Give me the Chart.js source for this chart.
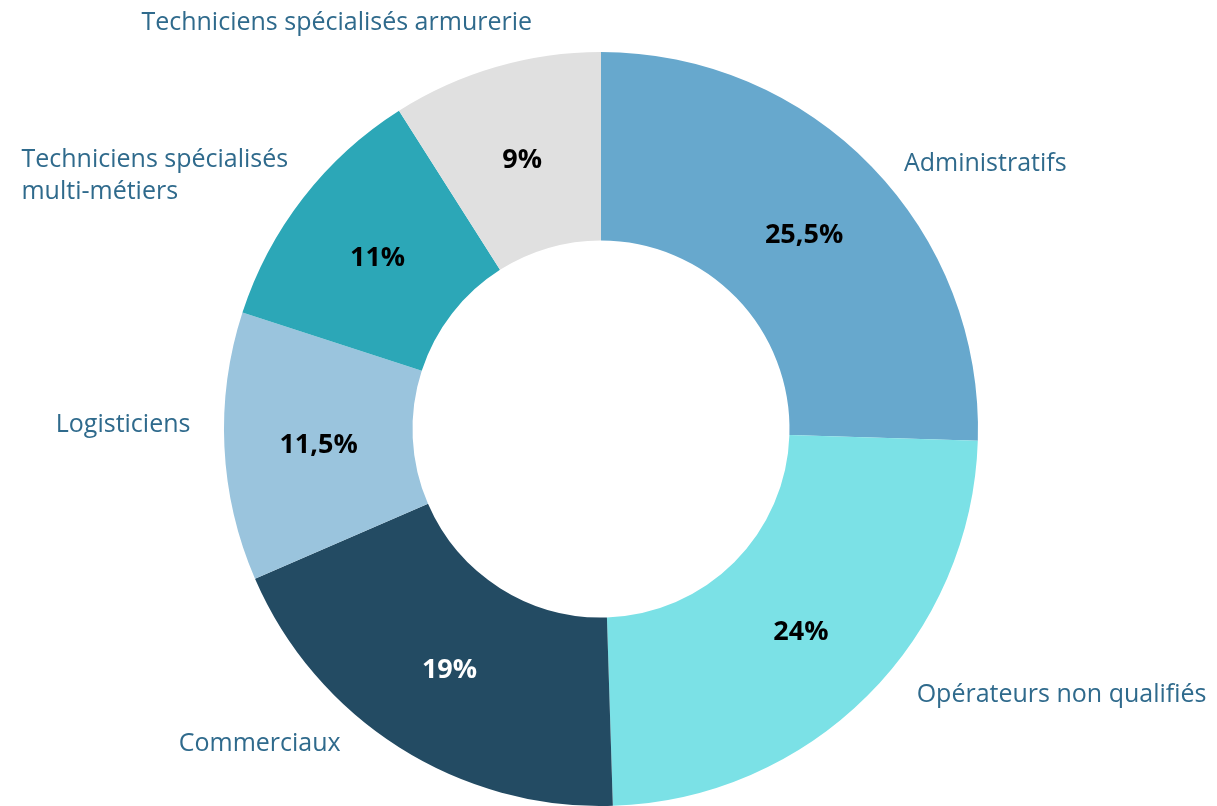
<!DOCTYPE html>
<html lang="fr">
<head>
<meta charset="utf-8">
<title>Répartition des effectifs</title>
<script src="https://cdn.jsdelivr.net/npm/chart.js@4"></script>
<style>
  html, body { margin: 0; padding: 0; background: #fff; }
  #wrap { width: 1217px; height: 806px; }
</style>
</head>
<body>
<div id="wrap"><canvas id="myChart" width="1217" height="806"></canvas></div>
<script>
// catégories, dans l'ordre horaire à partir de midi
const categories = [
    'Administratifs',
    'Opérateurs non qualifiés',
    'Commerciaux',
    'Logisticiens',
    ['Techniciens spécialisés', 'multi-métiers'],
    'Techniciens spécialisés armurerie'
];
const shares = [25.5, 24, 19, 11.5, 11, 9];
const valueLabels = ['25,5%', '24%', '19%', '11,5%', '11%', '9%'];
const colors = ['#67a8cd', '#7be1e6', '#234b63', '#9ac4dd', '#2ca7b7', '#e0e0e0'];

const FONT = '"Open Sans", Lato, sans-serif';

// petits décalages des libellés extérieurs par rapport au point calculé sur l'arc
const nudges = [[25, 1], [42, -11], [-53, -15], [-24, -25], [-7, -19], [39, -37]];

const labelPlugin = {
    id: 'sliceLabels',
    afterDatasetsDraw(chart) {
        const ctx = chart.ctx;
        const meta = chart.getDatasetMeta(0);
        ctx.save();
        meta.data.forEach(function (arc, i) {
            // pourcentage au milieu de l'anneau
            const p = arc.tooltipPosition();
            ctx.font = 'bold 27px ' + FONT;
            ctx.textAlign = 'center';
            ctx.textBaseline = 'middle';
            ctx.fillStyle = i === 2 ? '#ffffff' : '#000000';
            ctx.fillText(valueLabels[i], p.x, p.y + 3);

            // libellé de catégorie à l'extérieur
            const mid = (arc.startAngle + arc.endAngle) / 2;
            const r = arc.outerRadius + 10;
            const ax = arc.x + Math.cos(mid) * r + nudges[i][0];
            const ay = arc.y + Math.sin(mid) * r + nudges[i][1] + 3;
            const lines = Array.isArray(categories[i]) ? categories[i] : [categories[i]];
            ctx.font = '25px ' + FONT;
            ctx.fillStyle = '#2f6a8c';
            const rightSide = Math.cos(mid) > 0;
            const w = Math.max.apply(null, lines.map(function (l) { return ctx.measureText(l).width; }));
            const left = rightSide ? ax : ax - w;
            const lh = 32;
            ctx.textAlign = 'left';
            lines.forEach(function (l, k) {
                ctx.fillText(l, left, ay + (k - (lines.length - 1) / 2) * lh);
            });
        });
        ctx.restore();
    }
};

const chart = new Chart(document.getElementById('myChart').getContext('2d'), {
    type: 'doughnut',
    data: {
        labels: categories,
        datasets: [{
            data: shares,
            backgroundColor: colors,
            borderWidth: 0
        }]
    },
    options: {
        responsive: false,
        animation: false,
        events: [],
        cutout: '50%',
        layout: { padding: { top: 52, bottom: -3, left: 100, right: 115 } },
        plugins: {
            legend: { display: false },
            tooltip: { enabled: false }
        }
    },
    plugins: [labelPlugin]
});
</script>
</body>
</html>
